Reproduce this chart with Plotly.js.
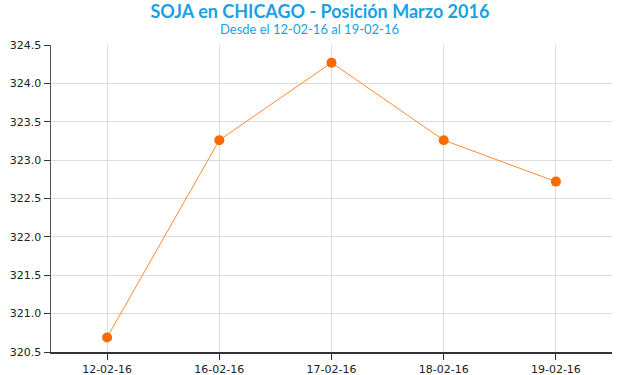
<!DOCTYPE html>
<html><head><meta charset="utf-8">
<script src="https://cdn.plot.ly/plotly-3.0.1.min.js"></script>
<style>html,body{margin:0;padding:0;background:#fff}#c{width:620px;height:375px}</style>
</head><body><div id="c"></div>
<script>
const categories = ["12-02-16","16-02-16","17-02-16","18-02-16","19-02-16"];
const prices = [320.69, 323.26, 324.27, 323.26, 322.72];
const yTicks = [320.5,321.0,321.5,322.0,322.5,323.0,323.5,324.0,324.5];
const titleText = "SOJA en CHICAGO - Posición Marzo 2016";
const subtitleText = "Desde el 12-02-16 al 19-02-16";

const trace = {
  x: categories, y: prices, type: "scatter", mode: "lines+markers",
  line: {color: "#ff8a33", width: 1},
  marker: {color: "#ff6a00", size: 10},
  hoverinfo: "x+y"
};
const layout = {
  width: 620, height: 375,
  margin: {l: 51, r: 8, t: 45, b: 23},
  paper_bgcolor: "#fff", plot_bgcolor: "#fff",
  showlegend: false,
  title: {text: "<b>" + titleText + "</b>", x: 0.516, xanchor: "center", y: 0.969, yanchor: "middle",
          font: {family: "Lato, 'Open Sans', sans-serif", size: 18, color: "#1ba1e2"}},
  annotations: [{text: subtitleText, xref: "paper", yref: "paper", x: 0.46, y: 1, xanchor: "center",
                 yanchor: "middle", yshift: 16, showarrow: false,
                 font: {family: "Lato, 'Open Sans', sans-serif", size: 13, color: "#1ba1e2"}}],
  xaxis: {
    type: "category", range: [-0.5, 4.5],
    showgrid: true, gridcolor: "#dcdcdc", gridwidth: 1,
    showline: true, linecolor: "#333", linewidth: 1.5,
    ticks: "outside", ticklen: 6, tickcolor: "#333", tickwidth: 1,
    ticklabelstandoff: 0,
    tickfont: {family: "DejaVu Sans, Verdana, sans-serif", size: 11, color: "#222"},
    zeroline: false, fixedrange: true
  },
  yaxis: {
    range: [320.5, 324.5], tickvals: yTicks, ticktext: yTicks.map(v => v.toFixed(1)),
    showgrid: true, gridcolor: "#dcdcdc", gridwidth: 1,
    showline: true, linecolor: "#555", linewidth: 1.5,
    ticks: "outside", ticklen: 6, tickcolor: "#333", tickwidth: 1,
    tickfont: {family: "DejaVu Sans, Verdana, sans-serif", size: 11, color: "#222"},
    zeroline: false, fixedrange: true
  }
};
Plotly.newPlot("c", [trace], layout, {displayModeBar: false, staticPlot: true});
</script></body></html>
